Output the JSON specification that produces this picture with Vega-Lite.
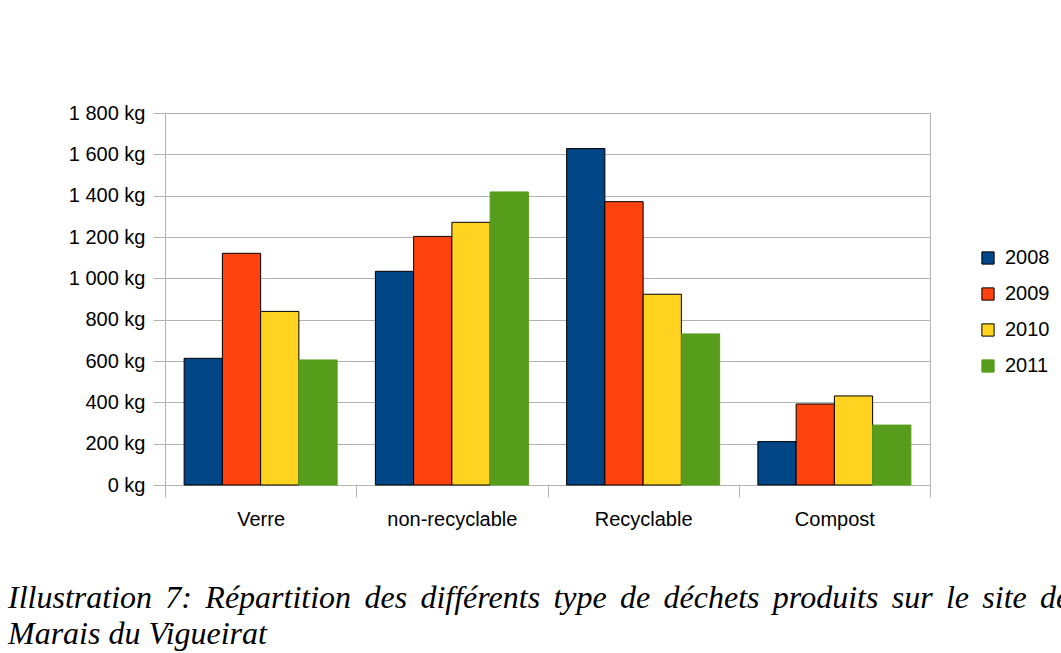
{
  "$schema": "https://vega.github.io/schema/vega-lite/v6.json",
  "autosize": {"type": "none"},
  "padding": {"left": 165, "top": 113, "right": 131, "bottom": 168},
  "width": 765,
  "height": 372,
  "background": "white",
  "config": {
    "font": "Liberation Sans",
    "view": {"stroke": "#b3b3b3", "strokeWidth": 1}
  },
  "title": {
    "text": ["Illustration \u20067: \u2006Répartition \u2006des \u2006différents \u2006type \u2006de \u2006déchets \u2006produits \u2006sur \u2006le \u2006site \u2006de", "Marais du Vigueirat"],
    "orient": "bottom",
    "anchor": "start",
    "frame": "group",
    "dx": -157,
    "offset": 54,
    "font": "Liberation Serif",
    "fontStyle": "italic",
    "fontWeight": "normal",
    "fontSize": 32,
    "lineHeight": 36,
    "color": "black"
  },
  "data": {
    "values": [
      {"type": "Verre", "year": "2008", "kg": 613},
      {"type": "Verre", "year": "2009", "kg": 1121},
      {"type": "Verre", "year": "2010", "kg": 840},
      {"type": "Verre", "year": "2011", "kg": 605},
      {"type": "non-recyclable", "year": "2008", "kg": 1034},
      {"type": "non-recyclable", "year": "2009", "kg": 1203},
      {"type": "non-recyclable", "year": "2010", "kg": 1271},
      {"type": "non-recyclable", "year": "2011", "kg": 1418},
      {"type": "Recyclable", "year": "2008", "kg": 1628},
      {"type": "Recyclable", "year": "2009", "kg": 1371},
      {"type": "Recyclable", "year": "2010", "kg": 923},
      {"type": "Recyclable", "year": "2011", "kg": 731},
      {"type": "Compost", "year": "2008", "kg": 210},
      {"type": "Compost", "year": "2009", "kg": 392},
      {"type": "Compost", "year": "2010", "kg": 431},
      {"type": "Compost", "year": "2011", "kg": 290}
    ]
  },
  "mark": {"type": "bar", "strokeWidth": 1},
  "encoding": {
    "x": {
      "field": "type",
      "type": "nominal",
      "sort": ["Verre", "non-recyclable", "Recyclable", "Compost"],
      "scale": {"paddingInner": 0, "paddingOuter": 0},
      "axis": {
        "title": null,
        "labelAngle": 0,
        "labelFontSize": 20,
        "labelColor": "black",
        "labelPadding": 12,
        "tickBand": "extent",
        "tickSize": 12,
        "tickColor": "#b3b3b3",
        "domainColor": "#b3b3b3",
        "grid": false
      }
    },
    "xOffset": {
      "field": "year",
      "type": "nominal",
      "scale": {"paddingInner": 0, "paddingOuter": 0.5}
    },
    "y": {
      "field": "kg",
      "type": "quantitative",
      "scale": {"domain": [0, 1800], "nice": false},
      "axis": {
        "title": null,
        "values": [0, 200, 400, 600, 800, 1000, 1200, 1400, 1600, 1800],
        "labelExpr": "replace(format(datum.value, ','), ',', ' ') + ' kg'",
        "labelFontSize": 20,
        "labelColor": "black",
        "labelPadding": 8,
        "tickSize": 12,
        "tickColor": "#b3b3b3",
        "domainColor": "#b3b3b3",
        "gridColor": "#b3b3b3"
      }
    },
    "color": {
      "field": "year",
      "type": "nominal",
      "scale": {"domain": ["2008", "2009", "2010", "2011"], "range": ["#004586", "#ff420e", "#ffd320", "#579d1c"]},
      "legend": {
        "title": null,
        "orient": "none",
        "legendX": 813,
        "legendY": 135,
        "symbolType": "square",
        "symbolSize": 150,
        "symbolStrokeWidth": 1,
        "labelFontSize": 20,
        "labelColor": "black",
        "labelOffset": 7,
        "rowPadding": 16
      }
    },
    "stroke": {
      "field": "year",
      "type": "nominal",
      "scale": {"domain": ["2008", "2009", "2010", "2011"], "range": ["#000000", "#000000", "#000000", "#579d1c"]},
      "legend": {
        "title": null,
        "orient": "none",
        "legendX": 813,
        "legendY": 135,
        "symbolType": "square",
        "symbolSize": 150,
        "symbolStrokeWidth": 1,
        "labelFontSize": 20,
        "labelColor": "black",
        "labelOffset": 7,
        "rowPadding": 16
      }
    }
  }
}
